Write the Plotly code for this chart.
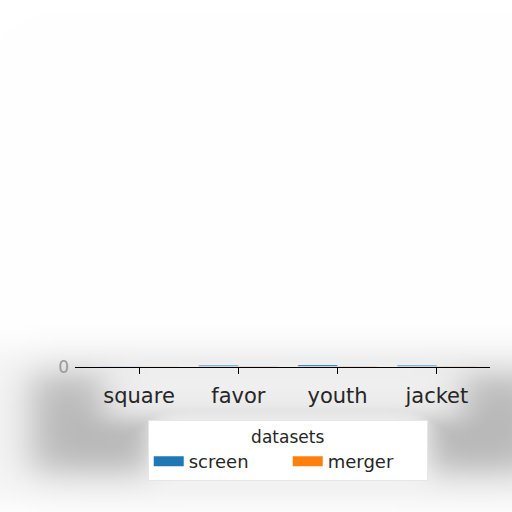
import base64
import struct
import zlib

import numpy as np
import plotly.graph_objects as go

categories = ["square", "favor", "youth", "jacket"]
screen = [1, 4, 5, 4]
merger = [1, 2, 2, 2]


def soft_box(v, a, b, s):
    return 0.5 * (np.tanh((v - a) / s) - np.tanh((v - b) / s))


# soft grey shadow behind the lower part of the figure (background picture)
def shadow_png():
    n = 128
    yy, xx = np.mgrid[0:n, 0:n] * (512 / n)
    shade = 0.25 * soft_box(xx, 30, 540, 24) * soft_box(yy, 372, 470, 20)
    clear = np.maximum(soft_box(xx, 100, 462, 22) * soft_box(yy, 360, 418, 14),
                       soft_box(xx, 145, 430, 16) * soft_box(yy, 400, 492, 14))
    shade = shade * (1 - 0.9 * clear)
    shade += 0.035 * soft_box(yy, 345, 500, 14)
    img = (255 * (1 - np.clip(shade, 0, 0.6))).astype(np.uint8)
    raw = b"".join(b"\x00" + row.tobytes() for row in img)

    def chunk(tag, data):
        c = tag + data
        return struct.pack(">I", len(data)) + c + struct.pack(">I", zlib.crc32(c) & 0xffffffff)

    png = b"\x89PNG\r\n\x1a\n" + chunk(b"IHDR", struct.pack(">IIBBBBB", n, n, 8, 0, 0, 0, 0))
    png += chunk(b"IDAT", zlib.compress(raw)) + chunk(b"IEND", b"")
    return "data:image/png;base64," + base64.b64encode(png).decode()


fig = go.Figure()
fig.add_trace(go.Bar(x=categories, y=screen, name="screen", marker_color="#1f77b4", showlegend=False))
fig.add_trace(go.Bar(x=categories, y=merger, name="merger", marker_color="#ff7f0e", showlegend=False))
# legend swatches as wide rectangles
for nm, col in [("screen", "#1f77b4"), ("merger", "#ff7f0e")]:
    fig.add_trace(go.Scatter(x=[None], y=[None], mode="lines", name=nm,
                             line=dict(color=col, width=12)))

fig.add_layout_image(dict(source=shadow_png(), xref="paper", yref="paper", x=0, y=1,
                          sizex=1, sizey=1, sizing="stretch", layer="below"))

fig.update_layout(
    width=512, height=512,
    margin=dict(l=0, r=0, t=0, b=0, autoexpand=False),
    paper_bgcolor="white", plot_bgcolor="rgba(0,0,0,0)",
    font=dict(family="DejaVu Sans", color="#262626"),
    barmode="group", bargap=0.2, bargroupgap=0,
    showlegend=True,
    legend=dict(
        title=dict(text="datasets", side="top center", font=dict(size=17)),
        orientation="h", x=0.562, xanchor="center", y=0.18, yanchor="top",
        bordercolor="#e6e6e6", borderwidth=1, bgcolor="white",
        font=dict(size=18), entrywidth=94,
    ),
)
fig.update_xaxes(
    domain=[0.1465, 0.957], showline=True, linecolor="black", linewidth=1,
    ticks="outside", ticklen=6, tickcolor="black", ticklabelstandoff=4,
    tickfont=dict(size=21), range=[-0.645, 3.535],
)
fig.update_yaxes(
    domain=[0.284, 0.288], range=[0, 6], tickvals=[0], ticktext=["0"],
    showline=False, showgrid=False, zeroline=False,
    tickfont=dict(size=17, color="#999999"), ticks="", ticklabelstandoff=5,
)

fig.write_html("out.html", config={"displayModeBar": False},
               post_script="document.body.style.margin='0';")
